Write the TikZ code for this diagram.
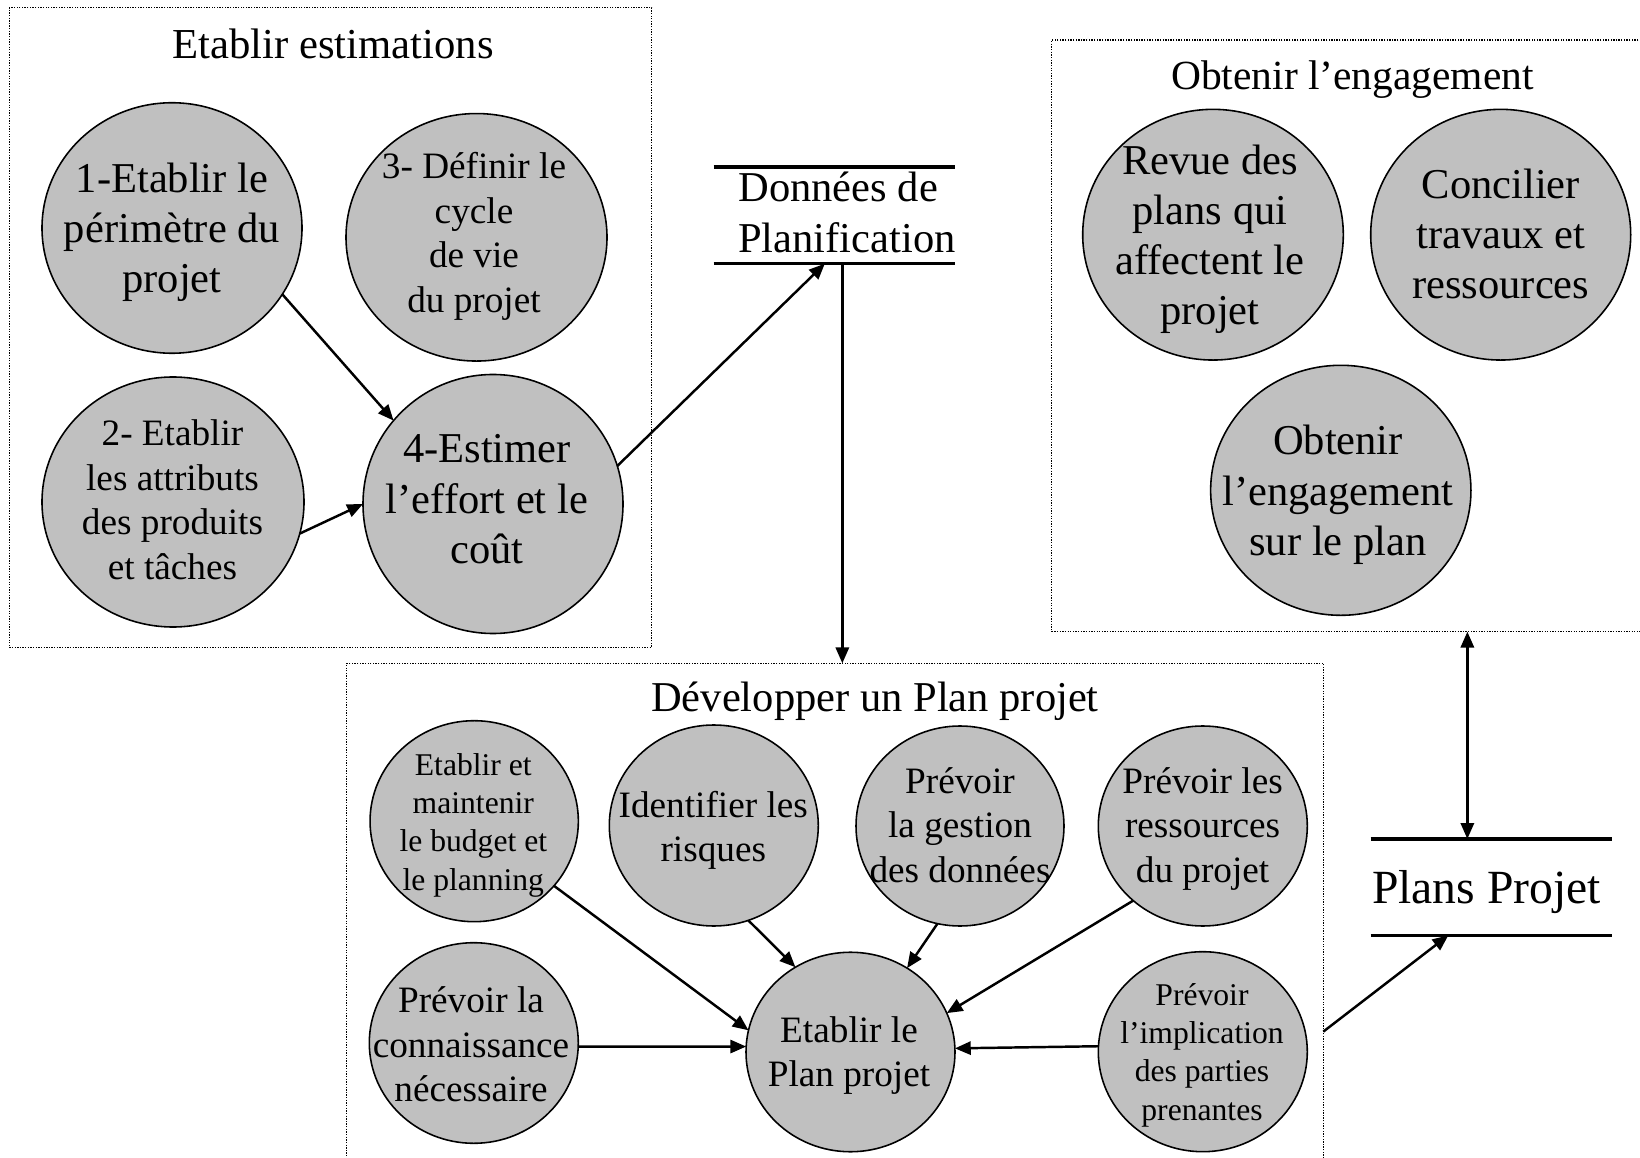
\documentclass[tikz,border=0pt]{standalone}
\usepackage{fontspec}
\setmainfont{Liberation Serif}
\usetikzlibrary{shapes.geometric,arrows.meta}
\definecolor{bubble}{RGB}{192,192,192}
\newcommand\fbig{\fontsize{24.2pt}{28.6pt}\selectfont}
\newcommand\fmid{\fontsize{21.2pt}{25.3pt}\selectfont}
\newcommand\fsml{\fontsize{18pt}{21.8pt}\selectfont}
\newcommand\fplans{\fontsize{27.1pt}{32pt}\selectfont}
\tikzset{
  frame/.style={rectangle, draw, line width=0.75pt, dash pattern=on 0.75pt off 0.75pt, inner sep=0pt, outer sep=0pt},
  bub/.style={ellipse, draw, line width=0.9pt, fill=bubble, inner sep=0pt, outer sep=0pt},
  sz/.style 2 args={minimum width=#1*0.02cm, minimum height=#2*0.02cm},
  lbl/.style={align=center, inner sep=0pt},
  title/.style={anchor=base, inner sep=0pt},
  con/.style={line width=1.4pt, -{Triangle[length=9pt,width=7.5pt]}},
  rule/.style={line width=2pt},
}
\begin{document}
\begin{tikzpicture}[x=0.02cm, y=-0.02cm]
\useasboundingbox (0,0) rectangle (1640,1158);
\fill[white] (0,0) rectangle (1640,1158);
\clip (0,0) rectangle (1640,1158);

% process groups
\node[frame, sz={642.4}{639.7}] (box1) at (330.5,327.5) {};
\node[frame, sz={598.3}{591.7}] (box2) at (1350.85,335.85) {};
\node[frame, sz={976.6}{506.7}] (box3) at (835,916.65) {};

\node[title, font=\fontsize{24.3pt}{28pt}\selectfont] (t1) at (333,59) {Etablir estimations};
\node[title, font=\fontsize{23.6pt}{28pt}\selectfont] (t2) at (1352.5,90) {Obtenir l’engagement};
\node[title, font=\fontsize{24.2pt}{28pt}\selectfont] (t3) at (875,711.7) {Développer un Plan projet};

% Etablir estimations
\node[bub, sz={260}{250.5}] (c1) at (172,228) {};
\node[bub, sz={261}{247.5}] (c3) at (476.5,237.3) {};
\node[bub, sz={262}{250}] (c2) at (173,502) {};
\node[bub, sz={260}{259}] (c4) at (493,504) {};
\node[lbl, font=\fbig] (c1t) at (172,232.3) {1-Etablir le\\périmètre du\\projet};
\node[lbl, font=\fmid] (c3t) at (474,236.5) {3- Définir le\\cycle\\de vie\\du projet};
\node[lbl, font=\fmid] (c2t) at (172.5,499.8) {2- Etablir\\les attributs\\des produits\\et tâches};
\node[lbl, font=\fbig] (c4t) at (487,499.3) {4-Estimer\\l’effort et le\\coût};

% Obtenir l'engagement
\node[bub, sz={260.6}{250.7}] (r1) at (1213,234.7) {};
\node[bub, sz={260}{250.7}] (r2) at (1500.7,234.7) {};
\node[bub, sz={260.3}{250}] (r3) at (1340.8,490.3) {};
\node[lbl, font=\fbig] (r1t) at (1210,239.3) {Revue des\\plans qui\\affectent le\\projet};
\node[lbl, font=\fbig] (r2t) at (1500.8,234) {Concilier\\travaux et\\ressources};
\node[lbl, font=\fbig] (r3t) at (1338,495) {Obtenir\\l’engagement\\sur le plan};

% Développer un Plan projet
\node[bub, sz={208.3}{201}] (b1) at (474.2,821.2) {};
\node[bub, sz={209}{201}] (b2) at (713.8,825.5) {};
\node[bub, sz={208}{200}] (b3) at (960,826) {};
\node[bub, sz={209}{200}] (b4) at (1202.8,826) {};
\node[bub, sz={209}{200.6}] (b5) at (473.8,1043) {};
\node[bub, sz={209}{199.5}] (cen) at (850.5,1052) {};
\node[bub, sz={209}{200}] (b6) at (1202.8,1051.7) {};
\node[lbl, font=\fsml] (b1t) at (473.3,825.2) {Etablir et\\maintenir\\le budget et\\le planning};
\node[lbl, font=\fmid] (b2t) at (713.3,830.4) {Identifier les\\risques};
\node[lbl, font=\fmid] (b3t) at (960,824.9) {Prévoir\\la gestion\\des données};
\node[lbl, font=\fmid] (b4t) at (1202.6,828.9) {Prévoir les\\ressources\\du projet};
\node[lbl, font=\fmid] (b5t) at (471,1044.5) {Prévoir la\\connaissance\\nécessaire};
\node[lbl, font=\fmid] (cent) at (849,1055.5) {Etablir le\\Plan projet};
\node[lbl, font=\fsml] (b6t) at (1202,1055.2) {Prévoir\\l’implication\\des parties\\prenantes};

% data stores
\node[sz={240.7}{96}, inner sep=0pt] (dp) at (834.35,215.3) {};
\draw[rule] (dp.north west) -- (dp.north east);
\draw[rule] (dp.south west) -- (dp.south east);
\node[anchor=west, align=left, inner sep=0pt, font=\fontsize{24.2pt}{28.5pt}\selectfont] (dpt) at (738,212.4) {Données de\\Planification};

\node[sz={240.7}{95.7}, inner sep=0pt] (pp) at (1491.35,887.15) {};
\draw[rule] (pp.north west) -- (pp.north east);
\draw[rule] (pp.south west) -- (pp.south east);
\node[anchor=base west, inner sep=0pt, font=\fplans] (ppt) at (1371.7,903.3) {Plans Projet};

% flows
\draw[con] (c1.-31) -- (c4.140);
\draw[con] (c2.-14.5) -- (c4.180);
\draw[con] (c4.17) -- ([xshift=-0.19cm]dp.south);
\coordinate (dpb) at ([xshift=0.16cm]dp.south);
\draw[con] (dpb) -- (dpb |- box3.north);

\draw[con] (b1.-39) -- (cen.168);
\draw[con] (b2.-70) -- (cen.123);
\draw[con] (b3.-103) -- (cen.56);
\draw[con] (b4.-133) -- (cen.22);
\draw[con] (b5.-2.4) -- (cen.177.4);
\draw[con] (b6.177.5) -- (cen.2.6);

\coordinate (b3out) at ([yshift=-7.368cm]box3.north east);
\draw[con] (b3out) -- ([xshift=-0.86cm]pp.south);
\coordinate (ppa) at ([xshift=-0.48cm]pp.north);
\draw[line width=1.4pt, {Triangle[length=9pt,width=7.5pt]}-{Triangle[length=9pt,width=7.5pt]}] (ppa) -- (ppa |- box2.south);
\end{tikzpicture}
\end{document}
